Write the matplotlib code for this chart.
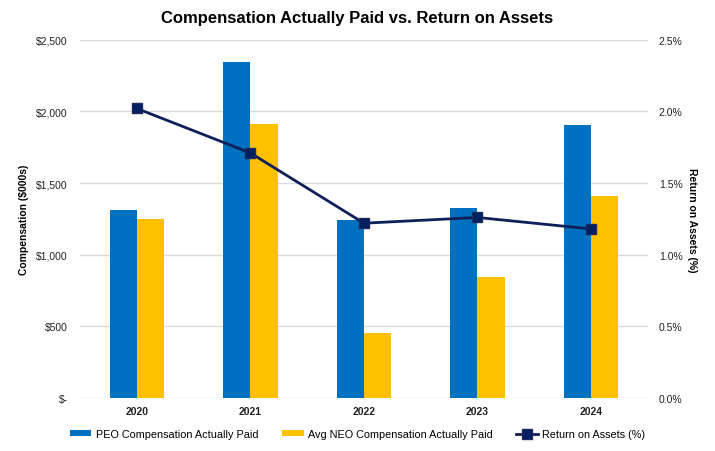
import matplotlib.pyplot as plt
import numpy as np
from matplotlib.ticker import FuncFormatter

plt.rcParams['font.family'] = ['Liberation Sans', 'DejaVu Sans']

years = ['2020', '2021', '2022', '2023', '2024']
peo_cap = [1315, 2342, 1245, 1328, 1907]
neo_cap = [1250, 1912, 453, 847, 1412]
roa = [2.02, 1.71, 1.22, 1.26, 1.18]

fig = plt.figure(figsize=(7.15, 4.52), dpi=100)
ax = fig.add_axes([0.112, 0.117, 0.794, 0.793])
ax2 = ax.twinx()

x = np.arange(len(years))
w = 0.24
b1 = ax.bar(x - w / 2, peo_cap, w, color='#0070C0', label='PEO Compensation Actually Paid', zorder=2)
b2 = ax.bar(x + w / 2, neo_cap, w, color='#FFC000', label='Avg NEO Compensation Actually Paid', zorder=2)
ln, = ax2.plot(x, roa, color='#0F1F5A', lw=2, marker='s', ms=7,
               markerfacecolor='#002060', markeredgecolor='#1F2A5C',
               label='Return on Assets (%)', zorder=3)

ax.set_xlim(-0.5, len(years) - 0.5)
ax.set_ylim(0, 2500)
ax.set_yticks(range(0, 2501, 500))
ax.yaxis.set_major_formatter(FuncFormatter(lambda v, p: '$-' if v == 0 else f'${v:,.0f}'))
ax2.set_ylim(0, 2.5)
ax2.set_yticks(np.arange(0, 2.51, 0.5))
ax2.yaxis.set_major_formatter(FuncFormatter(lambda v, p: f'{v:.1f}%'))

ax.grid(axis='y', color='#D9D9D9', lw=1, zorder=0)
for a in (ax, ax2):
    for s in a.spines.values():
        s.set_visible(False)
    a.tick_params(length=0, labelsize=7.5, colors='#222222')
ax.tick_params(axis='y', pad=9)
ax2.tick_params(axis='y', pad=8)
ax.set_xticks(x)
ax.set_xticklabels(years, fontweight='bold')
ax.tick_params(axis='x', pad=6)

ax.set_ylabel('Compensation ($000s)', fontweight='bold', fontsize=7.5, va='center')
ax.yaxis.set_label_coords(-0.0986, 0.5)
ax2.set_ylabel('Return on Assets (%)', fontweight='bold', fontsize=7.5, rotation=270, va='center')
ax2.yaxis.set_label_coords(1.0775, 0.5)

fig.suptitle('Compensation Actually Paid vs. Return on Assets', fontsize=12,
             fontweight='bold', y=0.975)

fig.legend(handles=[b1, b2, ln], loc='lower center', ncol=3, frameon=False,
           fontsize=7.8, bbox_to_anchor=(0.5, 0.005), columnspacing=2.2,
           handlelength=2.0, handleheight=0.5, handletextpad=0.4)

fig.savefig('out.png', dpi=100)
